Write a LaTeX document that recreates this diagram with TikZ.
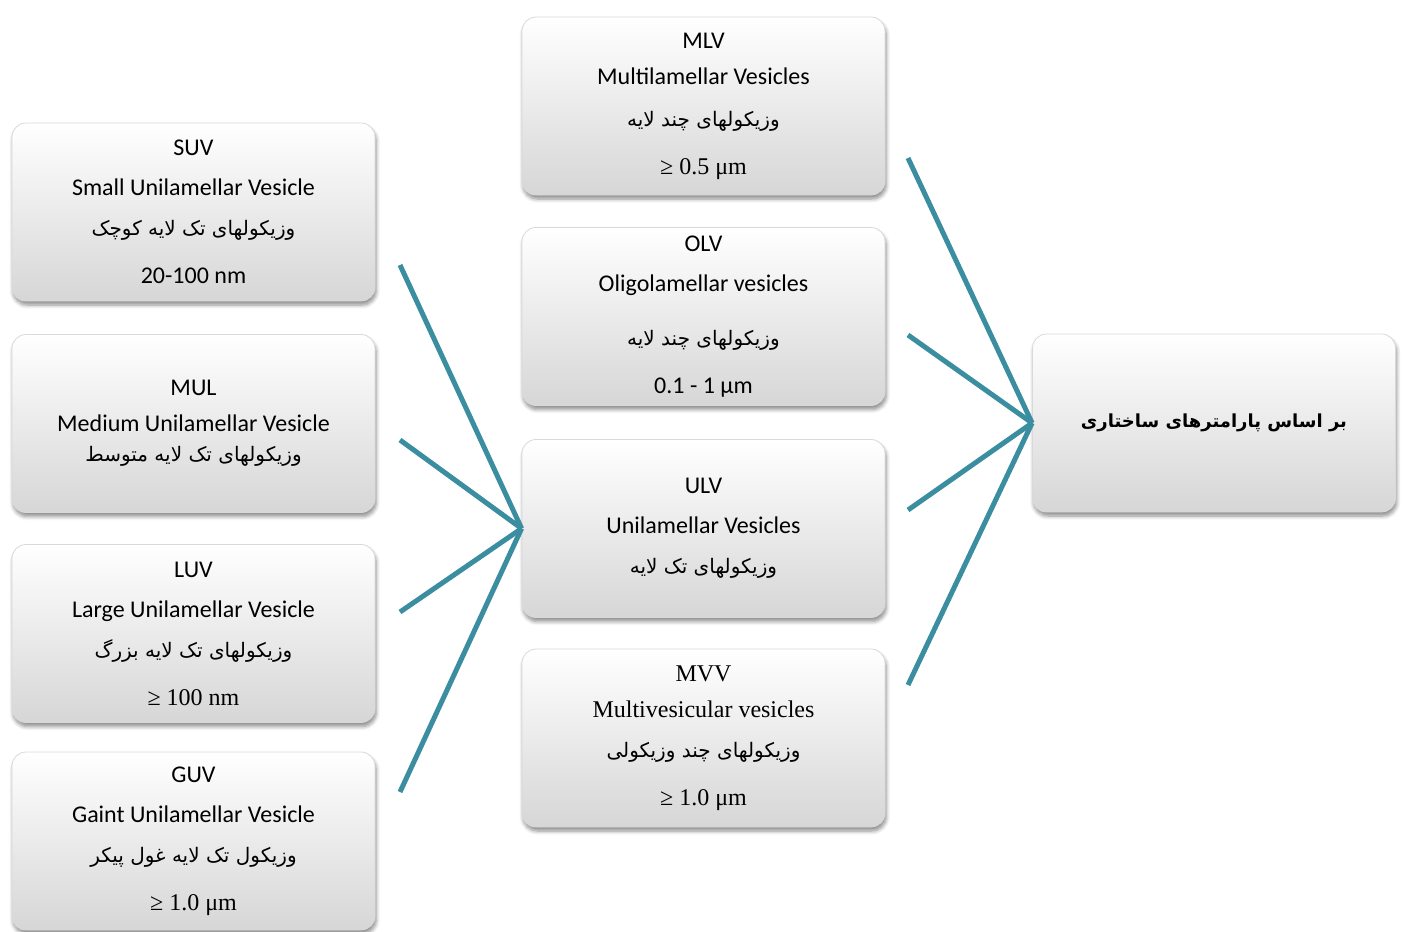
\documentclass[tikz,border=0pt]{standalone}
\usepackage{fontspec}
\setmainfont{Carlito}
\newfontfamily\timesfont{Liberation Serif}
\newfontfamily\farsifont[Script=Arabic]{DejaVu Sans}
\TeXXeTstate=1
\usetikzlibrary{shadows.blur}
\definecolor{fanteal}{RGB}{59,141,160}
\newcommand{\fa}[1]{{\farsifont\fontsize{10}{20}\selectfont\beginR #1\endR}}

\begin{document}
\begin{tikzpicture}[x=0.5pt, y=-0.5pt,
		box/.style={rectangle, rounded corners=7pt, minimum width=181.5pt, minimum height=89pt,
			top color=white, bottom color=gray!32, draw=gray!30, line width=0.4pt,
			blur shadow={shadow xshift=0.6pt, shadow yshift=-2pt, shadow blur steps=6, shadow opacity=45},
			align=center, inner sep=0pt, font=\fontsize{12}{20}\selectfont},
		fan/.style={draw=fanteal, line width=2.5pt}]
			\useasboundingbox (0,0) rectangle (1405,932);

			% Left column: unilamellar sizes
			\node[box] (suv) at (193.5,212) {SUV\\Small Unilamellar Vesicle\\\fa{وزیکولهای تک لایه کوچک}\\[4pt]20-100 nm};
			\node[box] (mul) at (193.5,423.5) {MUL\\[-2pt]Medium Unilamellar Vesicle\\[-5pt]\fa{وزیکولهای تک لایه متوسط}};
			\node[box] (luv) at (193.5,633.5) {LUV\\Large Unilamellar Vesicle\\\fa{وزیکولهای تک لایه بزرگ}\\[4pt]{\timesfont ≥ 100 nm}};
			\node[box] (guv) at (193.5,841) {GUV\\Gaint Unilamellar Vesicle\\\fa{وزیکول تک لایه غول پیکر}\\[4pt]{\timesfont ≥ 1.0 μm}};

			% Middle column: lamellarity
			\node[box] (mlv) at (703.5,106) {MLV\\[-2pt]Multilamellar Vesicles\\[1pt]\fa{وزیکولهای چند لایه}\\[4pt]{\timesfont ≥ 0.5 μm}};
			\node[box] (olv) at (703.5,316.5) {OLV\\Oligolamellar vesicles\\[7pt]\fa{وزیکولهای چند لایه}\\[4pt]0.1 - 1 μm};
			\node[box] (ulv) at (703.5,528.5) {ULV\\Unilamellar Vesicles\\\fa{وزیکولهای تک لایه}};
			\node[box] (mvv) at (703.5,738) {\timesfont MVV\\[-2pt]\timesfont Multivesicular vesicles\\\fa{وزیکولهای چند وزیکولی}\\[4pt]\timesfont ≥ 1.0 μm};

			% Right box
			\node[box, font=\fontsize{9}{20}\selectfont\bfseries] (basis) at (1214,423) {\farsifont\bfseries\beginR بر اساس پارامترهای ساختاری\endR};

			% Free ends of the fans
			\coordinate (l1) at (400,265);
			\coordinate (l2) at (400,440);
			\coordinate (l3) at (400,612);
			\coordinate (l4) at (400,792);
			\coordinate (r1) at (908,158);
			\coordinate (r2) at (908,335);
			\coordinate (r3) at (908,510);
			\coordinate (r4) at (908,685);

			% Draw the left fan into ULV
			\draw[fan] (l1) -- (ulv.west);
			\draw[fan] (l2) -- (ulv.west);
			\draw[fan] (l3) -- (ulv.west);
			\draw[fan] (l4) -- (ulv.west);

			% Draw the right fan into the basis box
			\draw[fan] (r1) -- (basis.west);
			\draw[fan] (r2) -- (basis.west);
			\draw[fan] (r3) -- (basis.west);
			\draw[fan] (r4) -- (basis.west);

		\end{tikzpicture}
\end{document}
